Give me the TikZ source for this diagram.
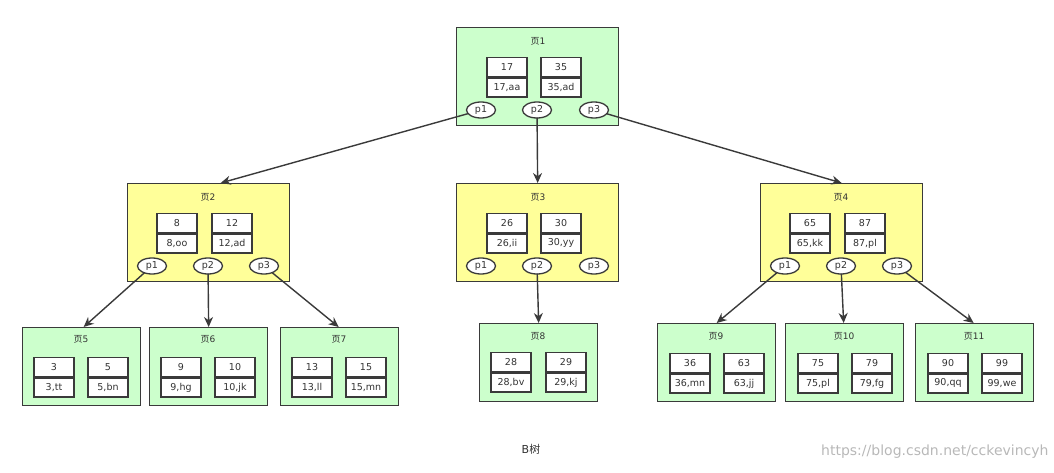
\documentclass[tikz,border=0pt]{standalone}
\usepackage{fontspec}
\setmainfont{DejaVu Sans}
\newfontfamily\cjk{Noto Sans CJK SC}
\usetikzlibrary{shapes.geometric,arrows.meta}
\definecolor{pgreen}{HTML}{CCFFCC}
\definecolor{pyellow}{HTML}{FFFF99}
\definecolor{edge}{HTML}{3A3A3A}
\definecolor{txt}{HTML}{333333}
\definecolor{wm}{HTML}{B8B8B8}
\tikzset{
  pagebox/.style={draw=edge, line width=1.3pt, inner sep=0pt, anchor=north west},
  pagelabel/.style={font=\fontsize{9}{10}\selectfont, text=txt, inner sep=0pt},
  cellbox/.style={draw=edge, line width=1.3pt, fill=white, minimum width=40pt, minimum height=19pt, inner sep=0pt, font=\fontsize{9.5}{10}\selectfont, text=txt, anchor=north},
  ptr/.style={ellipse, draw=edge, line width=1.3pt, fill=white, minimum width=29pt, minimum height=16pt, inner sep=0pt, font=\fontsize{9.5}{10}\selectfont, text=txt},
  arr/.style={draw=edge, line width=1.4pt, -{Stealth[length=10pt,width=9pt]}, shorten <=-1pt}
}
\newcommand\kbox[5]{%
  \node[cellbox] (#1t) at (#2,#3) {#4};
  \node[cellbox] (#1b) at (#1t.south) {#5};}
\begin{document}
\begin{tikzpicture}[x=1pt,y=-1pt]
\useasboundingbox (0,0) rectangle (1054,473);
% ---- root ----
\node[pagebox, fill=pgreen, minimum width=162pt, minimum height=98pt] (P1) at (456,27) {};
\node[pagelabel] (P1l) at (538,41) {{\cjk 页}1};
\kbox{P1k1}{507}{57}{17}{17,aa}
\kbox{P1k2}{561}{57}{35}{35,ad}
\node[ptr] (P1p1) at (481,110) {p1};
\node[ptr] (P1p2) at (537,110) {p2};
\node[ptr] (P1p3) at (594,110) {p3};
% ---- level 2 ----
\node[pagebox, fill=pyellow, minimum width=162pt, minimum height=98pt] (P2) at (127,183) {};
\node[pagelabel] (P2l) at (208,197) {{\cjk 页}2};
\kbox{P2k1}{177}{213}{8}{8,oo}
\kbox{P2k2}{232}{213}{12}{12,ad}
\node[ptr] (P2p1) at (152,266) {p1};
\node[ptr] (P2p2) at (208,266) {p2};
\node[ptr] (P2p3) at (264,266) {p3};

\node[pagebox, fill=pyellow, minimum width=162pt, minimum height=98pt] (P3) at (456,183) {};
\node[pagelabel] (P3l) at (538,197) {{\cjk 页}3};
\kbox{P3k1}{507}{213}{26}{26,ii}
\kbox{P3k2}{561}{213}{30}{30,yy}
\node[ptr] (P3p1) at (481,266) {p1};
\node[ptr] (P3p2) at (537,266) {p2};
\node[ptr] (P3p3) at (594,266) {p3};

\node[pagebox, fill=pyellow, minimum width=162pt, minimum height=98pt] (P4) at (760,183) {};
\node[pagelabel] (P4l) at (841,197) {{\cjk 页}4};
\kbox{P4k1}{810}{213}{65}{65,kk}
\kbox{P4k2}{865}{213}{87}{87,pl}
\node[ptr] (P4p1) at (785,266) {p1};
\node[ptr] (P4p2) at (841,266) {p2};
\node[ptr] (P4p3) at (897,266) {p3};
% ---- leaves ----
\node[pagebox, fill=pgreen, minimum width=118pt, minimum height=78pt] (P5) at (22,327) {};
\node[pagelabel] (P5l) at (81,339) {{\cjk 页}5};
\kbox{P5k1}{54}{357}{3}{3,tt}
\kbox{P5k2}{108}{357}{5}{5,bn}

\node[pagebox, fill=pgreen, minimum width=118pt, minimum height=78pt] (P6) at (149,327) {};
\node[pagelabel] (P6l) at (208,339) {{\cjk 页}6};
\kbox{P6k1}{181}{357}{9}{9,hg}
\kbox{P6k2}{235}{357}{10}{10,jk}

\node[pagebox, fill=pgreen, minimum width=118pt, minimum height=78pt] (P7) at (280,327) {};
\node[pagelabel] (P7l) at (339,339) {{\cjk 页}7};
\kbox{P7k1}{312}{357}{13}{13,ll}
\kbox{P7k2}{366}{357}{15}{15,mn}

\node[pagebox, fill=pgreen, minimum width=118pt, minimum height=78pt] (P8) at (479,323) {};
\node[pagelabel] (P8l) at (538,336) {{\cjk 页}8};
\kbox{P8k1}{511}{352}{28}{28,bv}
\kbox{P8k2}{566}{352}{29}{29,kj}

\node[pagebox, fill=pgreen, minimum width=118pt, minimum height=78pt] (P9) at (657,323) {};
\node[pagelabel] (P9l) at (716,336) {{\cjk 页}9};
\kbox{P9k1}{690}{353}{36}{36,mn}
\kbox{P9k2}{744}{353}{63}{63,jj}

\node[pagebox, fill=pgreen, minimum width=118pt, minimum height=78pt] (P10) at (785,323) {};
\node[pagelabel] (P10l) at (844,336) {{\cjk 页}10};
\kbox{P10k1}{818}{353}{75}{75,pl}
\kbox{P10k2}{872}{353}{79}{79,fg}

\node[pagebox, fill=pgreen, minimum width=118pt, minimum height=78pt] (P11) at (915,323) {};
\node[pagelabel] (P11l) at (974,336) {{\cjk 页}11};
\kbox{P11k1}{948}{353}{90}{90,qq}
\kbox{P11k2}{1002}{353}{99}{99,we}
% ---- connectors ----
\draw[arr] (P1p1) -- ([xshift=12pt]P2.north);
\draw[arr] (P1p2) -- (P3.north);
\draw[arr] (P1p3) -- (P4.north);
\draw[arr] (P2p1) -- ([xshift=2pt]P5.north);
\draw[arr] (P2p2) -- (P6.north);
\draw[arr] (P2p3) -- ([xshift=-1pt]P7.north);
\draw[arr] (P3p2) -- (P8.north);
\draw[arr] (P4p1) -- (P9.north);
\draw[arr] (P4p2) -- ([xshift=-1pt]P10.north);
\draw[arr] (P4p3) -- ([xshift=-1pt]P11.north);
% ---- caption ----
\node[font=\fontsize{11}{13}\selectfont, text=txt, inner sep=0pt] (cap) at (531,449) {B{\cjk 树}};
\node[font=\fontsize{14}{16}\selectfont, text=wm, inner sep=0pt, anchor=west] (wmk) at (821,452) {https://blog.csdn.net/cckevincyh};
\end{tikzpicture}
\end{document}
